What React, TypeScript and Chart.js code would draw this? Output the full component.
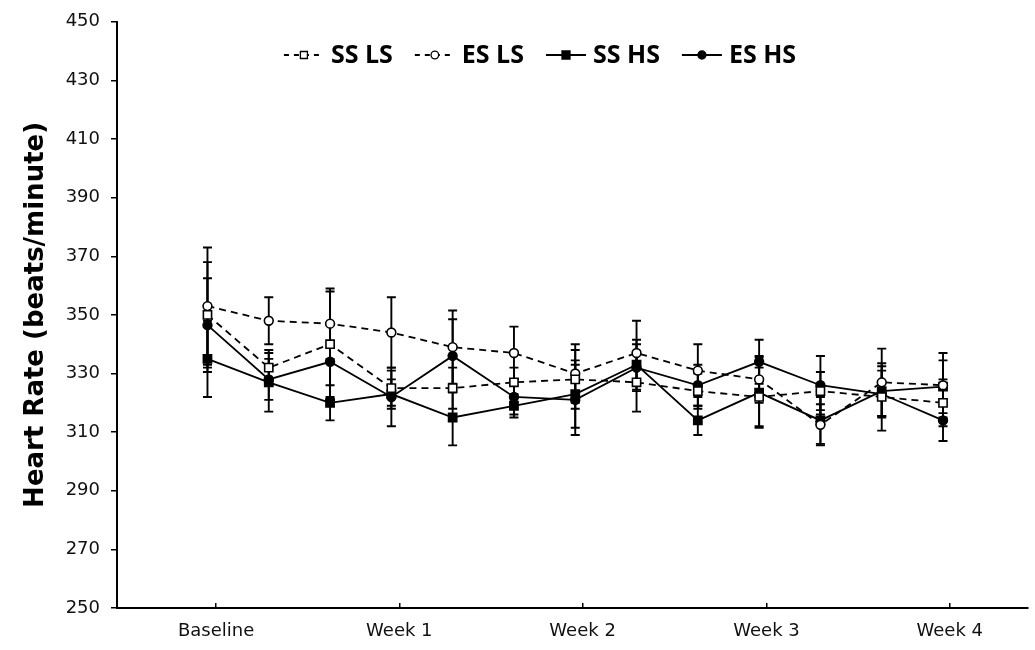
import React, { useEffect, useRef } from 'react';
import { Chart, registerables } from 'chart.js';

Chart.register(...registerables);

// ---- data ----
const timePoints = [0, 1, 2, 3, 4, 5, 6, 7, 8, 9, 10, 11, 12];
const xLabels = ['Baseline', 'Week 1', 'Week 2', 'Week 3', 'Week 4'];
const xTickPositions = [0.14, 3.13, 6.12, 9.12, 12.11];

const seriesNames = ['SS LS', 'ES LS', 'SS HS', 'ES HS'];

const ssLS = [350, 332, 340, 325, 325, 327, 328, 327, 324, 322, 324, 322, 320];
const esLS = [353, 348, 347, 344, 339, 337, 330, 337, 331, 328, 312.5, 327, 326];
const ssHS = [335, 327, 320, 323, 315, 319, 323, 333, 314, 323.5, 314, 324, 325.5];
const esHS = [346.5, 328, 334, 322, 336, 322, 321, 332, 326, 334, 326, 323, 314];

const ssLSErr = [18, 6, 18, 6, 7, 5, 10, 10, 6, 10, 6.5, 11.5, 8];
const esLSErr = [20, 8, 12, 12, 12.5, 9, 10, 11, 9, 8, 7, 11.5, 11];
const ssHSErr = [13, 10, 6, 5, 9.5, 4, 11.5, 8.5, 5, 12, 8, 8.5, 9];
const esHSErr = [16, 7, 13, 10, 12.5, 6, 12, 8, 7, 7.5, 10, 8, 7];

const yMin = 250;
const yMax = 450;
const yStep = 20;
const yTitle = 'Heart Rate (beats/minute)';

const seriesValues = [ssLS, esLS, ssHS, esHS];
const seriesErrors = [ssLSErr, esLSErr, ssHSErr, esHSErr];
const seriesDashed = [true, true, false, false];
const seriesShape = ['rect', 'circle', 'rect', 'circle'];
const seriesFilled = [false, false, true, true];

const legendFont = 'bold 25px "Open Sans"';

function drawLegendSymbol(g: CanvasRenderingContext2D, x: number, y: number, i: number) {
  const w = 40;
  g.save();
  g.strokeStyle = '#000';
  g.lineWidth = 1.8;
  g.beginPath();
  if (seriesDashed[i]) g.setLineDash([5, 5]);
  g.moveTo(x, y);
  g.lineTo(x + w, y);
  g.stroke();
  g.setLineDash([]);
  g.fillStyle = seriesFilled[i] ? '#000' : '#fff';
  g.lineWidth = 1.3;
  g.beginPath();
  const cx = x + w / 2;
  if (seriesShape[i] === 'rect') {
    const s = seriesFilled[i] ? 8 : 7;
    g.rect(cx - s / 2, y - s / 2, s, s);
  } else {
    g.arc(cx, y, seriesFilled[i] ? 4 : 3.8, 0, Math.PI * 2);
  }
  g.fill();
  g.stroke();
  g.restore();
}

const legendPlugin = {
  id: 'customLegend',
  afterDraw(chart: any) {
    const { ctx } = chart;
    const labels = chart.data.datasets.map((d: any) => d.label);
    ctx.save();
    ctx.font = legendFont;
    ctx.textBaseline = 'middle';
    ctx.fillStyle = '#000';
    const symW = 40;
    const symGap = 7;
    const itemGap = 22;
    const widths = labels.map((t: string) => symW + symGap + ctx.measureText(t).width);
    const total = widths.reduce((a: number, b: number) => a + b, 0) + itemGap * (labels.length - 1);
    let x = 540 - total / 2;
    const y = 55;
    labels.forEach((t: string, i: number) => {
      drawLegendSymbol(ctx, x, y, i);
      ctx.fillText(t, x + symW + symGap, y + 1);
      x += widths[i] + itemGap;
    });
    ctx.restore();
  },
};

const errorBarPlugin = {
  id: 'errorBars',
  beforeDatasetsDraw(chart: any) {
    const { ctx, scales } = chart;
    const xs = scales.x;
    const ys = scales.y;
    ctx.save();
    ctx.strokeStyle = '#000';
    ctx.lineWidth = 1.9;
    seriesValues.forEach((vals, i) => {
      const errs = seriesErrors[i];
      vals.forEach((v, j) => {
        const x = xs.getPixelForValue(timePoints[j]);
        const yt = ys.getPixelForValue(v + errs[j]);
        const yb = ys.getPixelForValue(v - errs[j]);
        ctx.beginPath();
        ctx.moveTo(x, yt);
        ctx.lineTo(x, yb);
        ctx.moveTo(x - 4.5, yt);
        ctx.lineTo(x + 4.5, yt);
        ctx.moveTo(x - 4.5, yb);
        ctx.lineTo(x + 4.5, yb);
        ctx.stroke();
      });
    });
    ctx.restore();
  },
};

export default function App() {
  const ref = useRef<HTMLCanvasElement | null>(null);

  useEffect(() => {
    document.body.style.margin = '0';
    const datasets = seriesNames.map((name, i) => ({
      label: name,
      data: seriesValues[i].map((v, j) => ({ x: timePoints[j], y: v })),
      borderColor: '#000',
      borderWidth: 1.8,
      borderDash: seriesDashed[i] ? [7, 5] : [],
      pointStyle: seriesShape[i],
      pointRadius: seriesShape[i] === 'rect' ? 5.8 : 4.4,
      pointBorderWidth: 1.6,
      pointBorderColor: '#000',
      pointBackgroundColor: seriesFilled[i] ? '#000' : '#fff',
      backgroundColor: seriesFilled[i] ? '#000' : '#fff',
      tension: 0,
      fill: false,
    }));

    const chart = new Chart(ref.current!, {
      type: 'line',
      data: { datasets },
      plugins: [errorBarPlugin, legendPlugin],
      options: {
        animation: false,
        responsive: false,
        maintainAspectRatio: false,
        layout: { padding: { top: 18, right: 2, left: 0, bottom: 0 } },
        plugins: {
          tooltip: { enabled: false },
          legend: { display: false },
        },
        scales: {
          x: {
            type: 'linear',
            min: -1.476,
            max: 13.38,
            afterBuildTicks: (scale: any) => {
              scale.ticks = xTickPositions.map((v) => ({ value: v }));
            },
            afterFit: (scale: any) => {
              scale.height = 42;
            },
            ticks: {
              autoSkip: false,
              maxRotation: 0,
              padding: 18,
              color: '#111',
              font: { family: 'DejaVu Sans', size: 18 },
              callback: (_v: any, i: number) => xLabels[i],
            },
            grid: {
              drawOnChartArea: false,
              drawTicks: true,
              tickLength: -5,
              color: '#000',
              lineWidth: 1.5,
            },
            border: { display: true, color: '#000', width: 2 },
          },
          y: {
            type: 'linear',
            min: yMin,
            max: yMax,
            afterFit: (scale: any) => {
              scale.width = 117;
            },
            ticks: {
              stepSize: yStep,
              padding: 11,
              color: '#111',
              font: { family: 'DejaVu Sans', size: 18 },
            },
            grid: {
              drawOnChartArea: false,
              drawTicks: true,
              tickLength: 6,
              color: '#000',
              lineWidth: 1.5,
            },
            border: { display: true, color: '#000', width: 2 },
            title: {
              display: true,
              text: yTitle,
              color: '#000',
              padding: { top: 21, bottom: 0 },
              font: { family: 'DejaVu Sans', weight: 'bold', size: 26 },
            },
          },
        },
      },
    });
    return () => chart.destroy();
  }, []);

  return (
    <div style={{ width: 1035, height: 650 }}>
      <canvas ref={ref} width={1035} height={650} />
    </div>
  );
}
